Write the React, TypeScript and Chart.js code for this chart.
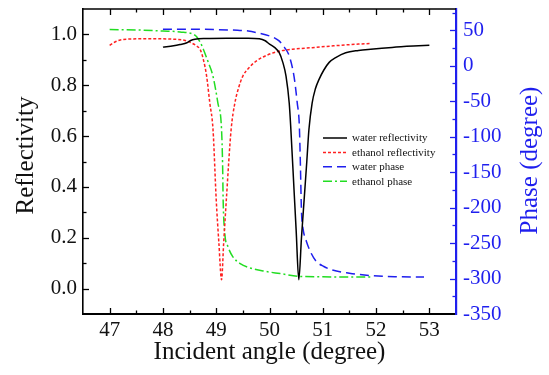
import React, { useEffect, useRef } from "react";
import { Chart, registerables } from "chart.js";

Chart.register(...registerables);

// ---- data ----
const WATER_R_X = [48.0, 48.2, 48.32, 48.45, 48.52, 48.6, 48.8, 49.2, 49.6, 49.81, 49.92, 50.0, 50.1, 50.18, 50.25, 50.31, 50.37, 50.4, 50.46, 50.5, 50.55, 50.6, 50.65, 50.7, 50.74, 50.8, 50.86, 50.93, 51.02, 51.12, 51.25, 51.43, 51.67, 51.9, 52.3, 52.7, 53.0];
const WATER_R_Y = [0.950, 0.955, 0.960, 0.967, 0.976, 0.981, 0.984, 0.985, 0.985, 0.983, 0.975, 0.962, 0.948, 0.929, 0.890, 0.836, 0.730, 0.630, 0.390, 0.230, 0.035, 0.200, 0.350, 0.500, 0.626, 0.730, 0.785, 0.823, 0.860, 0.890, 0.910, 0.928, 0.937, 0.942, 0.949, 0.954, 0.957];

const ETH_R_X = [47.0, 47.1, 47.2, 47.4, 47.8, 48.2, 48.4, 48.55, 48.63, 48.7, 48.76, 48.82, 48.88, 48.94, 49.0, 49.05, 49.1, 49.14, 49.19, 49.28, 49.35, 49.42, 49.5, 49.62, 49.75, 49.95, 50.18, 50.5, 50.8, 51.2, 51.67, 51.9];
const ETH_R_Y = [0.957, 0.970, 0.978, 0.982, 0.983, 0.981, 0.977, 0.965, 0.955, 0.940, 0.900, 0.836, 0.730, 0.626, 0.350, 0.180, 0.035, 0.180, 0.350, 0.626, 0.730, 0.790, 0.836, 0.870, 0.895, 0.918, 0.934, 0.943, 0.948, 0.955, 0.962, 0.964];

const WATER_P_X = [48.0, 48.5, 49.0, 49.4, 49.6, 49.8, 50.0, 50.1, 50.18, 50.28, 50.37, 50.46, 50.52, 50.56, 50.58, 50.6, 50.63, 50.69, 50.78, 50.88, 51.02, 51.18, 51.5, 51.92, 52.4, 52.9];
const WATER_P_Y = [51.5, 51.5, 51, 50, 49, 46, 42, 39, 35, 26, 14, -15, -52, -85, -140, -205, -230, -247, -264, -276, -283, -288, -292.5, -296, -297.5, -298];

const ETH_P_X = [47.0, 47.5, 48.0, 48.32, 48.6, 48.7, 48.76, 48.85, 48.94, 49.03, 49.1, 49.12, 49.13, 49.16, 49.22, 49.31, 49.45, 49.63, 49.93, 50.2, 50.56, 51.0, 51.5, 51.9];
const ETH_P_Y = [51, 50.5, 49, 47.7, 43, 33, 23, 5, -15, -52, -90, -140, -189, -236, -255, -269, -279, -285, -290, -293, -297, -297.5, -298, -298];

const SERIES_LABELS = ["water reflectivity", "ethanol reflectivity", "water phase", "ethanol phase"];
const X_TITLE = "Incident angle (degree)";
const Y_TITLE = "Reflectivity";
const Y1_TITLE = "Phase (degree)";

// ---- ticks ----
const X_TICKS = [47, 48, 49, 50, 51, 52, 53];
const X_MINOR = [46.5, 47.5, 48.5, 49.5, 50.5, 51.5, 52.5, 53.5];
const Y_TICKS = [0.0, 0.2, 0.4, 0.6, 0.8, 1.0];
const Y_MINOR = [-0.1, 0.1, 0.3, 0.5, 0.7, 0.9, 1.1];
const P_TICKS = [-350, -300, -250, -200, -150, -100, -50, 0, 50];
const P_MINOR = [-325, -275, -225, -175, -125, -75, -25, 25, 75];

const SERIF = "'Liberation Serif', 'Times New Roman', serif";
const BLUE = "#1f1fee";
const RED = "#ff2020";
const GREEN = "#22dd22";

const pts = (xs: number[], ys: number[]) => xs.map((x, i) => ({ x, y: ys[i] }));

const STYLES = [
  { color: "#000000", dash: [] as number[] },
  { color: RED, dash: [3, 2] },
  { color: BLUE, dash: [9, 5] },
  { color: GREEN, dash: [9, 3, 2, 3] },
];

const ticksPlugin = {
  id: "inwardTicks",
  afterDraw(chart: any) {
    const { ctx, chartArea: a, scales } = chart;
    ctx.save();
    ctx.setLineDash([]);
    // top border
    ctx.strokeStyle = "#000";
    ctx.lineWidth = 1.5;
    ctx.beginPath();
    ctx.moveTo(a.left, a.top);
    ctx.lineTo(a.right, a.top);
    ctx.stroke();
    ctx.lineWidth = 1.3;
    const xt = (vals: number[], len: number) => {
      vals.forEach((v) => {
        const px = Math.round(scales.x.getPixelForValue(v)) + 0.5;
        if (px < a.left + 1 || px > a.right - 1) return;
        ctx.beginPath();
        ctx.moveTo(px, a.bottom);
        ctx.lineTo(px, a.bottom - len);
        ctx.moveTo(px, a.top);
        ctx.lineTo(px, a.top + len);
        ctx.stroke();
      });
    };
    xt(X_TICKS, 6);
    xt(X_MINOR, 3.5);
    const yt = (vals: number[], len: number) => {
      vals.forEach((v) => {
        const py = Math.round(scales.y.getPixelForValue(v)) + 0.5;
        if (py < a.top + 1 || py > a.bottom - 1) return;
        ctx.beginPath();
        ctx.moveTo(a.left, py);
        ctx.lineTo(a.left + len, py);
        ctx.stroke();
      });
    };
    yt(Y_TICKS, 6);
    yt(Y_MINOR, 3.5);
    ctx.strokeStyle = BLUE;
    const pt = (vals: number[], len: number) => {
      vals.forEach((v) => {
        const py = Math.round(scales.y1.getPixelForValue(v)) + 0.5;
        if (py < a.top + 1 || py > a.bottom - 1) return;
        ctx.beginPath();
        ctx.moveTo(a.right, py);
        ctx.lineTo(a.right - len, py);
        ctx.stroke();
      });
    };
    pt(P_TICKS, 6);
    pt(P_MINOR, 3.5);

    // vertical axis titles (both read bottom-to-top)
    ctx.font = `25px ${SERIF}`;
    ctx.textAlign = "center";
    ctx.textBaseline = "middle";
    const vTitle = (text: string, x: number, y: number, color: string) => {
      ctx.save();
      ctx.translate(x, y);
      ctx.rotate(-Math.PI / 2);
      ctx.fillStyle = color;
      ctx.fillText(text, 0, 0);
      ctx.restore();
    };
    const midY = (a.top + a.bottom) / 2;
    vTitle(Y_TITLE, a.left - 57, midY - 6, "#111");
    vTitle(Y1_TITLE, a.right + 74, midY - 1, BLUE);
    ctx.restore();
  },
};

const legendPlugin = {
  id: "innerLegend",
  afterDatasetsDraw(chart: any) {
    const { ctx, chartArea: a } = chart;
    ctx.save();
    const x0 = a.left + 240;
    const y0 = a.top + 129;
    const step = 14.4;
    ctx.font = `11px ${SERIF}`;
    ctx.textBaseline = "middle";
    ctx.textAlign = "left";
    chart.data.datasets.forEach((ds: any, i: number) => {
      const y = y0 + i * step;
      ctx.strokeStyle = ds.borderColor;
      ctx.lineWidth = 1.5;
      ctx.setLineDash(ds.borderDash || []);
      ctx.beginPath();
      ctx.moveTo(x0, y);
      ctx.lineTo(x0 + 24, y);
      ctx.stroke();
      ctx.setLineDash([]);
      ctx.fillStyle = "#111";
      ctx.fillText(ds.label, x0 + 29, y + 0.5);
    });
    ctx.restore();
  },
};

export default function App() {
  const ref = useRef<HTMLCanvasElement | null>(null);

  useEffect(() => {
    if (!ref.current) return;
    const datasets = [
      { label: SERIES_LABELS[0], data: pts(WATER_R_X, WATER_R_Y), yAxisID: "y" },
      { label: SERIES_LABELS[1], data: pts(ETH_R_X, ETH_R_Y), yAxisID: "y" },
      { label: SERIES_LABELS[2], data: pts(WATER_P_X, WATER_P_Y), yAxisID: "y1" },
      { label: SERIES_LABELS[3], data: pts(ETH_P_X, ETH_P_Y), yAxisID: "y1" },
    ].map((d, i) => ({
      ...d,
      borderColor: STYLES[i].color,
      backgroundColor: STYLES[i].color,
      borderDash: STYLES[i].dash,
      borderWidth: 1.5,
      pointRadius: 0,
      fill: false,
      cubicInterpolationMode: "monotone" as const,
    }));

    const chart = new Chart(ref.current, {
      type: "line",
      data: { datasets },
      plugins: [ticksPlugin, legendPlugin],
      options: {
        animation: false,
        responsive: false,
        devicePixelRatio: 1,
        layout: { padding: { top: 9, left: 0, right: 0, bottom: 0 } },
        plugins: { legend: { display: false }, tooltip: { enabled: false } },
        scales: {
          x: {
            type: "linear",
            position: "bottom",
            min: 46.5,
            max: 53.5,
            afterBuildTicks: (s: any) => {
              s.ticks = X_TICKS.map((v) => ({ value: v }));
            },
            afterFit: (s: any) => {
              s.height = 61;
              s.paddingLeft = 0;
              s.paddingRight = 0;
            },
            grid: { display: false, drawTicks: false, tickLength: 0 },
            border: { display: true, color: "#000", width: 2 },
            ticks: {
              color: "#111",
              font: { family: SERIF, size: 21 },
              padding: 4,
              maxRotation: 0,
              callback: (v: any) => String(v),
            },
            title: {
              display: true,
              text: X_TITLE,
              color: "#111",
              font: { family: SERIF, size: 25 },
              padding: { top: 0, bottom: 8 },
            },
          },
          y: {
            type: "linear",
            position: "left",
            min: -0.1,
            max: 1.1,
            afterBuildTicks: (s: any) => {
              s.ticks = Y_TICKS.map((v) => ({ value: v }));
            },
            afterFit: (s: any) => {
              s.width = 83;
              s.paddingTop = 0;
              s.paddingBottom = 0;
            },
            grid: { display: false, drawTicks: false, tickLength: 0 },
            border: { display: true, color: "#000", width: 1.6 },
            ticks: {
              color: "#111",
              font: { family: SERIF, size: 21 },
              padding: 6,
              callback: (v: any) => Number(v).toFixed(1),
            },
          },
          y1: {
            type: "linear",
            position: "right",
            min: -350,
            max: 80,
            afterBuildTicks: (s: any) => {
              s.ticks = P_TICKS.map((v) => ({ value: v }));
            },
            afterFit: (s: any) => {
              s.width = 93;
              s.paddingTop = 0;
              s.paddingBottom = 0;
            },
            grid: { display: false, drawTicks: false, tickLength: 0 },
            border: { display: true, color: BLUE, width: 2.2 },
            ticks: {
              color: BLUE,
              font: { family: SERIF, size: 21 },
              padding: 7,
              callback: (v: any) => String(v),
            },
          },
        },
      },
    } as any);
    return () => chart.destroy();
  }, []);

  return (
    <div style={{ position: "fixed", left: 0, top: 0, width: 549, height: 375, background: "#fff" }}>
      <canvas ref={ref} width={549} height={375} style={{ width: 549, height: 375, display: "block" }} />
    </div>
  );
}
